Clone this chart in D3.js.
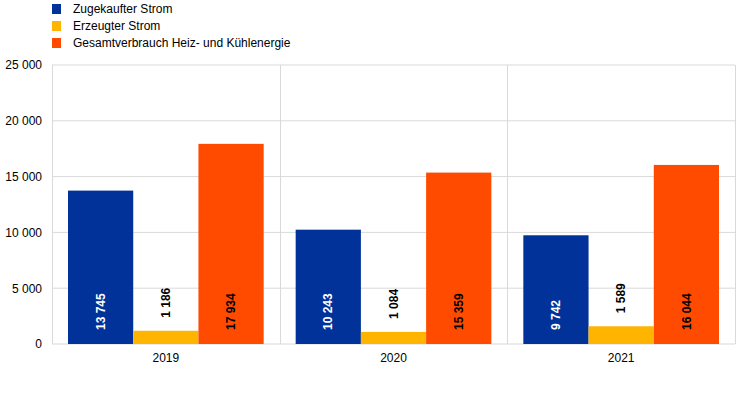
<!DOCTYPE html>
<meta charset="utf-8">
<script src="https://d3js.org/d3.v7.min.js"></script>
<style>
  body { margin: 0; background: #fff; }
  text { font-family: Arial, "Liberation Sans", sans-serif; }
</style>
<div id="chart"></div>
<script>
// data
var years = ["2019", "2020", "2021"];
var seriesNames = ["Zugekaufter Strom", "Erzeugter Strom", "Gesamtverbrauch Heiz- und Kühlenergie"];
var zugekauft = [13745, 10243, 9742];
var erzeugt = [1186, 1084, 1589];
var gesamt = [17934, 15359, 16044];
var yTicks = [0, 5000, 10000, 15000, 20000, 25000];
var colors = ["#003299", "#ffb400", "#ff4b00"];

var W = 743, H = 393;
var margin = {top: 65, right: 8, bottom: 49, left: 52};
var width = W - margin.left - margin.right,
    height = H - margin.top - margin.bottom;

var svg = d3.select("#chart").append("svg")
  .attr("width", W).attr("height", H);

var g = svg.append("g")
  .attr("transform", "translate(" + margin.left + "," + margin.top + ")");

var fmt = function(v) { return d3.format(",")(v).replace(/,/g, " "); };

var x0 = d3.scaleBand().domain(years).range([0, width]);
var x1 = d3.scaleBand().domain(d3.range(3))
  .range([16, x0.bandwidth() - 16]);
var y = d3.scaleLinear().domain([0, 25000]).range([height, 0]);

// horizontal grid
g.selectAll(".hgrid").data(yTicks).enter().append("line")
  .attr("x1", 0).attr("x2", width)
  .attr("y1", function(d) { return y(d); })
  .attr("y2", function(d) { return y(d); })
  .attr("stroke", "#d9d9d9").attr("stroke-width", 1);

// vertical separators
var seps = [0].concat(years.map(function(d) { return x0(d) + x0.bandwidth(); }));
g.selectAll(".vgrid").data(seps).enter().append("line")
  .attr("x1", function(d) { return Math.round(d) + 0.5; })
  .attr("x2", function(d) { return Math.round(d) + 0.5; })
  .attr("y1", 0).attr("y2", height)
  .attr("stroke", "#d9d9d9").attr("stroke-width", 1);

// y labels
var yAxis = d3.axisLeft(y).tickValues(yTicks).tickFormat(fmt).tickSize(0).tickPadding(10);
var ya = g.append("g").call(yAxis);
ya.select(".domain").remove();
ya.selectAll("text").style("font-size", "12px").attr("fill", "#000");

// x labels
var xAxis = d3.axisBottom(x0).tickSize(0).tickPadding(9);
var xa = g.append("g").attr("transform", "translate(0," + height + ")").call(xAxis);
xa.select(".domain").remove();
xa.selectAll("text").style("font-size", "12px").attr("fill", "#000");

// bars
var rows = years.map(function(yr, i) {
  return {year: yr, values: [zugekauft[i], erzeugt[i], gesamt[i]]};
});

var groups = g.selectAll(".grp").data(rows).enter().append("g")
  .attr("transform", function(d) { return "translate(" + x0(d.year) + ",0)"; });

groups.selectAll("rect").data(function(d) { return d.values; }).enter().append("rect")
  .attr("x", function(d, i) { return x1(i); })
  .attr("width", x1.bandwidth())
  .attr("y", function(d) { return y(d); })
  .attr("height", function(d) { return height - y(d); })
  .attr("fill", function(d, i) { return colors[i]; });

groups.selectAll(".lbl").data(function(d) { return d.values; }).enter().append("text")
  .attr("transform", function(d, i) {
    var cx = x1(i) + x1.bandwidth() / 2;
    var yy = (height - y(d) > 40) ? height - 14 : y(d) - 13;
    return "translate(" + cx + "," + yy + ") rotate(-90)";
  })
  .attr("dy", "0.35em")
  .attr("text-anchor", "start")
  .style("font-size", "12px")
  .style("font-weight", "bold")
  .attr("fill", function(d, i) { return i === 0 ? "#fff" : "#000"; })
  .text(fmt);

// legend
var leg = svg.append("g").attr("transform", "translate(52,4)");
var li = leg.selectAll("g").data(seriesNames).enter().append("g")
  .attr("transform", function(d, i) { return "translate(0," + (i * 17) + ")"; });
li.append("rect").attr("width", 9).attr("height", 10)
  .attr("fill", function(d, i) { return colors[i]; });
li.append("text").attr("x", 21).attr("y", 5).attr("dy", "0.35em")
  .style("font-size", "12px").attr("fill", "#000")
  .text(function(d) { return d; });
</script>
